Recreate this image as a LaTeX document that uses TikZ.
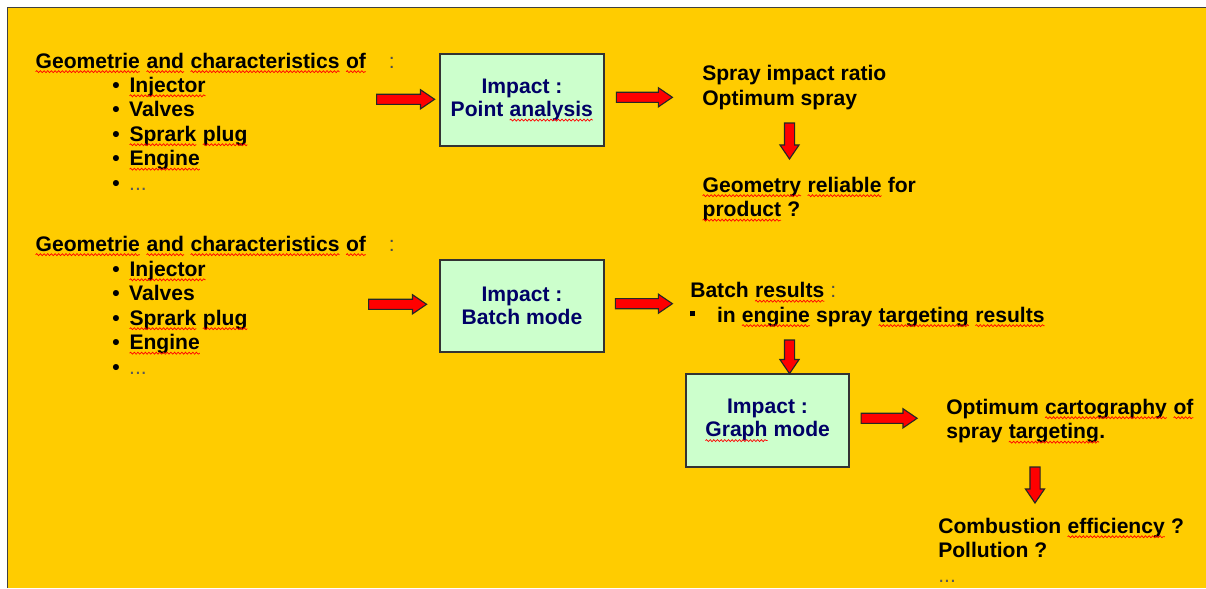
\documentclass[tikz,border=0pt]{standalone}
\usepackage{fontspec}
\setmainfont{Liberation Sans}
\usetikzlibrary{calc, decorations.pathmorphing}

\definecolor{bgyellow}{HTML}{FFCC00}
\definecolor{boxgreen}{HTML}{CCFFCC}
\definecolor{boxtext}{HTML}{000066}
\definecolor{arrowred}{HTML}{FF0000}

% spell-check style wavy underline
\newcommand{\sq}[1]{\tikz[baseline=(w.base)]{%
  \node[shape=rectangle, inner sep=0pt, outer sep=0pt, draw=none, fill=none, minimum width=0pt, minimum height=0pt, anchor=base] (w) {#1};
  \draw[red, line width=0.5pt, decorate, decoration={snake, amplitude=0.7pt, segment length=2.6pt}]
    ([yshift=-2.6pt]w.base west) -- ([yshift=-2.6pt]w.base east);}}
\newcommand{\itm}[1]{\makebox[12pt][l]{\textbullet}#1}
\newcommand{\more}{\textcolor{black!65}{\mdseries ...}}

% red block arrow from #1 to #2
\newcommand{\blockarrow}[2]{%
  \coordinate (ba) at ($(#2)!10pt!(#1)$);
  \filldraw[barrow] ($(#1)!3.6pt!90:(#2)$) -- ($(ba)!3.6pt!90:(#2)$) -- ($(ba)!6.8pt!90:(#2)$) -- (#2)
    -- ($(ba)!6.8pt!-90:(#2)$) -- ($(ba)!3.6pt!-90:(#2)$) -- ($(#1)!3.6pt!-90:(#2)$) -- cycle;}

\begin{document}
\begin{tikzpicture}[
    x=0.025cm, y=-0.025cm,
    txt/.style={font=\fontsize{15}{17.4}\selectfont\bfseries, align=left, inner sep=0pt, anchor=base west},
    box/.style={draw=black!80, line width=1.4pt, fill=boxgreen, minimum width=4.12cm, minimum height=2.3cm,
        align=center, text=boxtext, font=\fontsize{15}{16.6}\selectfont\bfseries},
    barrow/.style={fill=arrowred, draw=black!85, line width=0.8pt}
]
    \useasboundingbox (0,0) rectangle (1206,588);
    \fill[white] (0,0) rectangle (1206,588);
    \fill[bgyellow] (8,8) rectangle (1206,588);
    \draw[black!75, line width=1.4pt] (7.5,588) -- (7.5,7.5) -- (1206,7.5);

    % first chain: point analysis (multi-line nodes sit on their last baseline)
    \node[txt] at (35,68) (hdrA) {\sq{Geometrie} \sq{and} \sq{characteristics} \sq{of}\hspace{16pt}\textcolor{black!70}{\mdseries :}};
    \node[txt] at (112,190) (listA) {\itm{\sq{Injector}}\\ \itm{Valves}\\ \itm{\sq{Sprark} \sq{plug}}\\ \itm{\sq{Engine}}\\ \itm{\more}};
    \node[box] at (522,100) (point) {Impact :\\Point \sq{analysis}};
    \node[txt] at (702,105) (sprayres) {Spray impact ratio\\Optimum spray};
    \node[txt] at (702,216.5) (reliable) {\sq{Geometry} \sq{reliable} for\\\sq{product} ?};

    % second chain: batch and graph mode
    \node[txt] at (35,251) (hdrB) {\sq{Geometrie} \sq{and} \sq{characteristics} \sq{of}\hspace{16pt}\textcolor{black!70}{\mdseries :}};
    \node[txt] at (112,374) (listB) {\itm{\sq{Injector}}\\ \itm{Valves}\\ \itm{\sq{Sprark} \sq{plug}}\\ \itm{\sq{Engine}}\\ \itm{\more}};
    \node[box] at (522,306) (batch) {Impact :\\Batch mode};
    \node[txt] at (690,322) (batchres) {Batch \sq{results} \textcolor{black!70}{\mdseries :}\\
        \makebox[19pt][l]{\rule[4pt]{3.5pt}{3.5pt}}in \sq{engine} spray \sq{targeting} \sq{results}};
    \node[box, minimum width=4.08cm, minimum height=2.32cm] at (767.5,420.5) (graph) {Impact :\\\sq{Graph} mode};
    \node[txt] at (946,438.5) (carto) {Optimum \sq{cartography} \sq{of}\\spray \sq{targeting}.};
    \node[txt] at (938,582) (combust) {Combustion \sq{efficiency} ?\\Pollution ?\\\more};

    % arrow ends
    \coordinate (a1s) at ($(point.west)+(-62,-0.7)$);
    \coordinate (a1e) at ($(point.west)+(-4,-0.7)$);
    \coordinate (a2s) at ($(point.east)+(11,-2.7)$);
    \coordinate (a2e) at ($(point.east)+(67,-2.7)$);
    \coordinate (d1s) at (789.5,123);
    \coordinate (d1e) at (789.5,159);
    \coordinate (a3s) at ($(batch.west)+(-70,-1.7)$);
    \coordinate (a3e) at ($(batch.west)+(-12,-1.7)$);
    \coordinate (a4s) at ($(batch.east)+(10,-2.3)$);
    \coordinate (a4e) at ($(batch.east)+(67,-2.3)$);
    \coordinate (d2s) at (789.5,340);
    \coordinate (d2e) at ($(graph.north)+(22,0.5)$);
    \coordinate (a5s) at ($(graph.east)+(11,-2.2)$);
    \coordinate (a5e) at ($(graph.east)+(67,-2.2)$);
    \coordinate (d3s) at (1035,467);
    \coordinate (d3e) at (1035,503);

    \blockarrow{a1s}{a1e}
    \blockarrow{a2s}{a2e}
    \blockarrow{d1s}{d1e}
    \blockarrow{a3s}{a3e}
    \blockarrow{a4s}{a4e}
    \blockarrow{d2s}{d2e}
    \blockarrow{a5s}{a5e}
    \blockarrow{d3s}{d3e}
\end{tikzpicture}
\end{document}
